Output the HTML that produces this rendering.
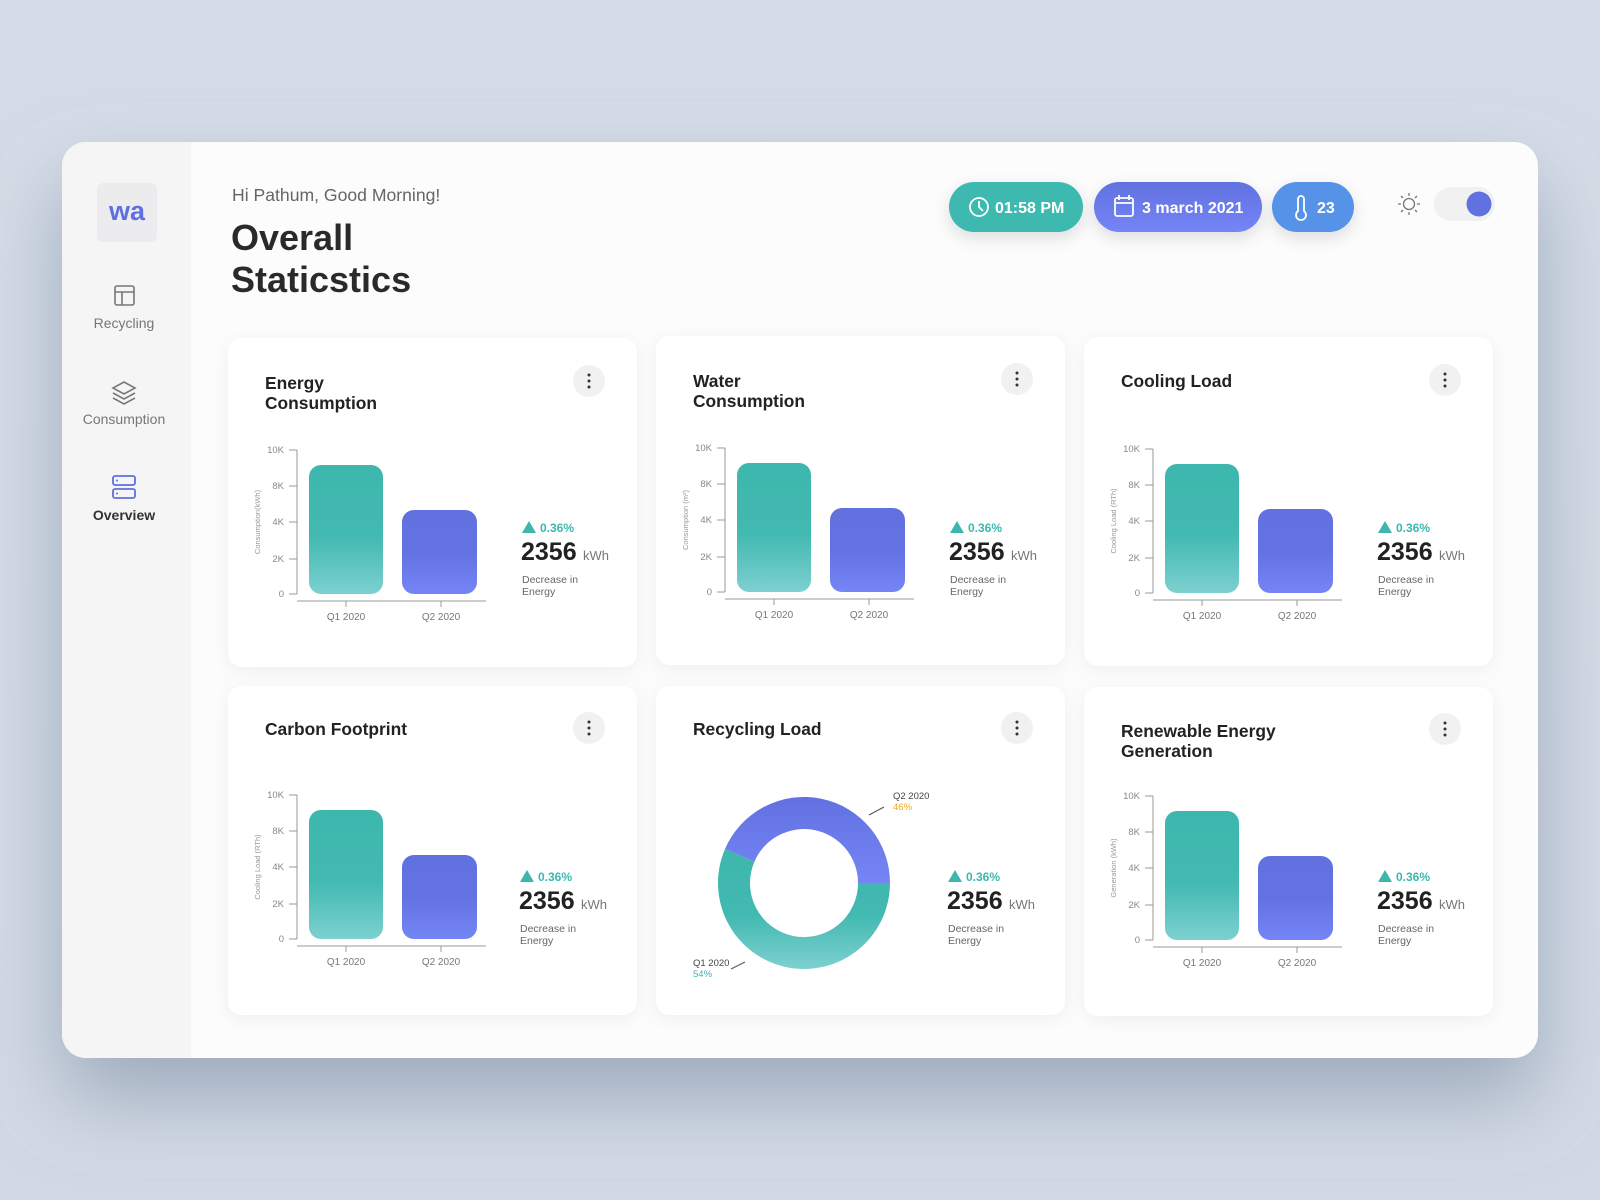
<!DOCTYPE html>
<html><head><meta charset="utf-8"><style>
html,body{margin:0;padding:0;width:1600px;height:1200px;overflow:hidden;background:#d4dbe6;}
svg{display:block;font-family:"Liberation Sans",sans-serif;}
</style></head><body>
<svg width="1600" height="1200" viewBox="0 0 1600 1200" xmlns="http://www.w3.org/2000/svg">
<defs>
<linearGradient id="bg" x1="0" y1="0" x2="0" y2="1"><stop offset="0" stop-color="#d5dce7"/><stop offset="1" stop-color="#d2d9e4"/></linearGradient>
<linearGradient id="gt" x1="0" y1="0" x2="0" y2="1"><stop offset="0" stop-color="#3db7ad"/><stop offset="0.55" stop-color="#42b9b1"/><stop offset="1" stop-color="#7dd0d0"/></linearGradient>
<linearGradient id="gp" x1="0" y1="0" x2="0" y2="1"><stop offset="0" stop-color="#6171e0"/><stop offset="0.5" stop-color="#6272e2"/><stop offset="1" stop-color="#7585f6"/></linearGradient>
<linearGradient id="gd" x1="0" y1="0" x2="0" y2="1"><stop offset="0" stop-color="#6171e0"/><stop offset="1" stop-color="#7585f6"/></linearGradient>
<filter id="sh" x="-10%" y="-10%" width="120%" height="135%"><feDropShadow dx="0" dy="40" stdDeviation="40" flood-color="#7a8ca2" flood-opacity="0.6"/></filter>
<filter id="cs" x="-10%" y="-10%" width="120%" height="120%"><feDropShadow dx="0" dy="4" stdDeviation="8" flood-color="#000" flood-opacity="0.05"/></filter>
<filter id="ps" x="-20%" y="-30%" width="140%" height="180%"><feDropShadow dx="0" dy="6" stdDeviation="8" flood-color="#000" flood-opacity="0.12"/></filter>
</defs>
<rect width="1600" height="1200" fill="url(#bg)"/>
<rect x="62" y="142" width="1476" height="916" rx="24" fill="#fcfcfc" filter="url(#sh)"/>
<path d="M86 142 H191 V1058 H86 A24 24 0 0 1 62 1034 V166 A24 24 0 0 1 86 142Z" fill="#f5f5f6"/>
<rect x="97" y="183" width="60" height="59" rx="6" fill="#ececee"/>
<text x="127" y="220" text-anchor="middle" font-size="27" font-weight="bold" fill="#5f6fe0">wa</text>
<g fill="none" stroke="#777" stroke-width="1.6"><rect x="115" y="286" width="19" height="19" rx="2"/><line x1="115" y1="292" x2="134" y2="292"/><line x1="122" y1="292" x2="122" y2="305"/></g>
<text x="124" y="328" text-anchor="middle" font-size="14" fill="#777">Recycling</text>
<g fill="none" stroke="#777" stroke-width="1.6"><path d="M124 382 L135 388 L124 394 L113 388Z"/><path d="M113 393 L124 399 L135 393"/><path d="M113 398 L124 404 L135 398"/></g>
<text x="124" y="424" text-anchor="middle" font-size="14" fill="#777">Consumption</text>
<g fill="none" stroke="#5f6fe0" stroke-width="1.8"><rect x="113" y="476" width="22" height="9" rx="2"/><rect x="113" y="489" width="22" height="9" rx="2"/></g>
<circle cx="117" cy="480.5" r="1" fill="#5f6fe0"/><circle cx="117" cy="493.5" r="1" fill="#5f6fe0"/>
<text x="124" y="520" text-anchor="middle" font-size="14" font-weight="bold" fill="#333">Overview</text>
<text x="232" y="201" font-size="17.6" fill="#666">Hi Pathum, Good Morning!</text>
<text x="231" y="250" font-size="36" font-weight="bold" fill="#2a2a2a">Overall</text>
<text x="231" y="292" font-size="36" font-weight="bold" fill="#2a2a2a">Staticstics</text>
<g filter="url(#ps)">
<rect x="949" y="182" width="134" height="50" rx="25" fill="#3db9af"/>
<rect x="1094" y="182" width="168" height="50" rx="25" fill="url(#gd)"/>
<rect x="1272" y="182" width="82" height="50" rx="25" fill="#5692e8"/>
</g>
<g fill="none" stroke="#fff" stroke-width="1.8"><circle cx="979" cy="207" r="9"/><path d="M979 201 V207 L983 211"/>
<rect x="1115" y="198" width="18" height="18" rx="2"/><line x1="1115" y1="203" x2="1133" y2="203"/><line x1="1119" y1="195" x2="1119" y2="200"/><line x1="1129" y1="195" x2="1129" y2="200"/>
<path d="M1298 199 a3 3 0 0 1 6 0 V211 a5 5 0 1 1 -6 0Z"/></g>
<text x="995" y="213" font-size="16" font-weight="bold" fill="#fff">01:58 PM</text>
<text x="1142" y="213" font-size="16" font-weight="bold" fill="#fff">3 march 2021</text>
<text x="1317" y="213" font-size="16" font-weight="bold" fill="#fff">23</text>
<g stroke="#777" stroke-width="1.3" fill="none"><circle cx="1409" cy="204" r="5.5"/>
<path d="M1409 193 v3 M1409 212 v3 M1398 204 h3 M1417 204 h3 M1401 196 l2 2 M1415 210 l2 2 M1401 212 l2 -2 M1415 198 l2 -2"/></g>
<rect x="1434" y="187" width="61" height="34" rx="17" fill="#f1f1f2"/>
<circle cx="1479" cy="204" r="12.5" fill="#6171e0"/>

<g font-family="Liberation Sans, sans-serif">
<g transform="translate(228,338)">
<rect width="409" height="329" rx="14" fill="#fff" filter="url(#cs)"/>
<text x="37" y="51" font-size="17.4" font-weight="bold" fill="#222">Energy</text>
<text x="37" y="71" font-size="17.4" font-weight="bold" fill="#222">Consumption</text>
<circle cx="361" cy="43" r="16" fill="#f1f1f1"/><circle cx="361" cy="37" r="1.5" fill="#333"/><circle cx="361" cy="43" r="1.5" fill="#333"/><circle cx="361" cy="49" r="1.5" fill="#333"/>
<g font-size="9.5" fill="#888" text-anchor="end"><text x="56" y="115">10K</text><text x="56" y="151">8K</text><text x="56" y="187">4K</text><text x="56" y="224">2K</text><text x="56" y="259">0</text></g>
<g stroke="#999" stroke-width="1"><path d="M61 112 H69 M61 148 H69 M61 184 H69 M61 221 H69 M61 256 H69 M69 112 V256 M69 263 H258 M118 263 V269 M213 263 V269"/></g>
<text transform="translate(32,184) rotate(-90)" text-anchor="middle" font-size="7.5" fill="#999">Consumption(kWh)</text>
<rect x="81" y="127" width="74" height="129" rx="12" fill="url(#gt)"/><rect x="174" y="172" width="75" height="84" rx="12" fill="url(#gp)"/>
<g font-size="10" fill="#777" text-anchor="middle"><text x="118" y="282">Q1 2020</text><text x="213" y="282">Q2 2020</text></g>
<polygon points="294,195 301,183 308,195" fill="#3db7ad"/><text x="312" y="194" font-size="12" font-weight="bold" fill="#3db7ad">0.36%</text>
<text x="293" y="222" font-size="25" font-weight="bold" fill="#222">2356</text><text x="355" y="222" font-size="13" fill="#777">kWh</text>
<text x="294" y="245" font-size="10.5" fill="#666">Decrease in</text><text x="294" y="257" font-size="10.5" fill="#666">Energy</text>
</g>
<g transform="translate(656,336)">
<rect width="409" height="329" rx="14" fill="#fff" filter="url(#cs)"/>
<text x="37" y="51" font-size="17.4" font-weight="bold" fill="#222">Water</text>
<text x="37" y="71" font-size="17.4" font-weight="bold" fill="#222">Consumption</text>
<circle cx="361" cy="43" r="16" fill="#f1f1f1"/><circle cx="361" cy="37" r="1.5" fill="#333"/><circle cx="361" cy="43" r="1.5" fill="#333"/><circle cx="361" cy="49" r="1.5" fill="#333"/>
<g font-size="9.5" fill="#888" text-anchor="end"><text x="56" y="115">10K</text><text x="56" y="151">8K</text><text x="56" y="187">4K</text><text x="56" y="224">2K</text><text x="56" y="259">0</text></g>
<g stroke="#999" stroke-width="1"><path d="M61 112 H69 M61 148 H69 M61 184 H69 M61 221 H69 M61 256 H69 M69 112 V256 M69 263 H258 M118 263 V269 M213 263 V269"/></g>
<text transform="translate(32,184) rotate(-90)" text-anchor="middle" font-size="7.5" fill="#999">Consumption (m³)</text>
<rect x="81" y="127" width="74" height="129" rx="12" fill="url(#gt)"/><rect x="174" y="172" width="75" height="84" rx="12" fill="url(#gp)"/>
<g font-size="10" fill="#777" text-anchor="middle"><text x="118" y="282">Q1 2020</text><text x="213" y="282">Q2 2020</text></g>
<polygon points="294,197 301,185 308,197" fill="#3db7ad"/><text x="312" y="196" font-size="12" font-weight="bold" fill="#3db7ad">0.36%</text>
<text x="293" y="224" font-size="25" font-weight="bold" fill="#222">2356</text><text x="355" y="224" font-size="13" fill="#777">kWh</text>
<text x="294" y="247" font-size="10.5" fill="#666">Decrease in</text><text x="294" y="259" font-size="10.5" fill="#666">Energy</text>
</g>
<g transform="translate(1084,337)">
<rect width="409" height="329" rx="14" fill="#fff" filter="url(#cs)"/>
<text x="37" y="50" font-size="17.4" font-weight="bold" fill="#222">Cooling Load</text>
<circle cx="361" cy="43" r="16" fill="#f1f1f1"/><circle cx="361" cy="37" r="1.5" fill="#333"/><circle cx="361" cy="43" r="1.5" fill="#333"/><circle cx="361" cy="49" r="1.5" fill="#333"/>
<g font-size="9.5" fill="#888" text-anchor="end"><text x="56" y="115">10K</text><text x="56" y="151">8K</text><text x="56" y="187">4K</text><text x="56" y="224">2K</text><text x="56" y="259">0</text></g>
<g stroke="#999" stroke-width="1"><path d="M61 112 H69 M61 148 H69 M61 184 H69 M61 221 H69 M61 256 H69 M69 112 V256 M69 263 H258 M118 263 V269 M213 263 V269"/></g>
<text transform="translate(32,184) rotate(-90)" text-anchor="middle" font-size="7.5" fill="#999">Cooling Load (RTh)</text>
<rect x="81" y="127" width="74" height="129" rx="12" fill="url(#gt)"/><rect x="174" y="172" width="75" height="84" rx="12" fill="url(#gp)"/>
<g font-size="10" fill="#777" text-anchor="middle"><text x="118" y="282">Q1 2020</text><text x="213" y="282">Q2 2020</text></g>
<polygon points="294,196 301,184 308,196" fill="#3db7ad"/><text x="312" y="195" font-size="12" font-weight="bold" fill="#3db7ad">0.36%</text>
<text x="293" y="223" font-size="25" font-weight="bold" fill="#222">2356</text><text x="355" y="223" font-size="13" fill="#777">kWh</text>
<text x="294" y="246" font-size="10.5" fill="#666">Decrease in</text><text x="294" y="258" font-size="10.5" fill="#666">Energy</text>
</g>
<g transform="translate(228,686)">
<rect width="409" height="329" rx="14" fill="#fff" filter="url(#cs)"/>
<text x="37" y="49" font-size="17.4" font-weight="bold" fill="#222">Carbon Footprint</text>
<circle cx="361" cy="42" r="16" fill="#f1f1f1"/><circle cx="361" cy="36" r="1.5" fill="#333"/><circle cx="361" cy="42" r="1.5" fill="#333"/><circle cx="361" cy="48" r="1.5" fill="#333"/>
<g font-size="9.5" fill="#888" text-anchor="end"><text x="56" y="112">10K</text><text x="56" y="148">8K</text><text x="56" y="184">4K</text><text x="56" y="221">2K</text><text x="56" y="256">0</text></g>
<g stroke="#999" stroke-width="1"><path d="M61 109 H69 M61 145 H69 M61 181 H69 M61 218 H69 M61 253 H69 M69 109 V253 M69 260 H258 M118 260 V266 M213 260 V266"/></g>
<text transform="translate(32,181) rotate(-90)" text-anchor="middle" font-size="7.5" fill="#999">Cooling Load (RTh)</text>
<rect x="81" y="124" width="74" height="129" rx="12" fill="url(#gt)"/><rect x="174" y="169" width="75" height="84" rx="12" fill="url(#gp)"/>
<g font-size="10" fill="#777" text-anchor="middle"><text x="118" y="279">Q1 2020</text><text x="213" y="279">Q2 2020</text></g>
<polygon points="292,196 299,184 306,196" fill="#3db7ad"/><text x="310" y="195" font-size="12" font-weight="bold" fill="#3db7ad">0.36%</text>
<text x="291" y="223" font-size="25" font-weight="bold" fill="#222">2356</text><text x="353" y="223" font-size="13" fill="#777">kWh</text>
<text x="292" y="246" font-size="10.5" fill="#666">Decrease in</text><text x="292" y="258" font-size="10.5" fill="#666">Energy</text>
</g>
<g transform="translate(656,686)">
<rect width="409" height="329" rx="14" fill="#fff" filter="url(#cs)"/>
<text x="37" y="49" font-size="17.4" font-weight="bold" fill="#222">Recycling Load</text>
<circle cx="361" cy="42" r="16" fill="#f1f1f1"/><circle cx="361" cy="36" r="1.5" fill="#333"/><circle cx="361" cy="42" r="1.5" fill="#333"/><circle cx="361" cy="48" r="1.5" fill="#333"/>
<path d="M234 197 A86 86 0 0 0 69 163 L98.4 175.7 A54 54 0 0 1 202 197Z" fill="url(#gd)"/>
<path d="M69 163 A86 86 0 1 0 234 197 L202 197 A54 54 0 1 1 98.4 175.7Z" fill="url(#gt)"/>
<g stroke="#555" stroke-width="1"><line x1="213" y1="129" x2="228" y2="121"/><line x1="75" y1="283" x2="89" y2="276"/></g>
<text x="237" y="113" font-size="9.5" fill="#444">Q2 2020</text><text x="237" y="124" font-size="9.5" fill="#f5a623">46%</text>
<text x="37" y="280" font-size="9.5" fill="#444">Q1 2020</text><text x="37" y="291" font-size="9.5" fill="#3db7ad">54%</text>
<polygon points="292,196 299,184 306,196" fill="#3db7ad"/><text x="310" y="195" font-size="12" font-weight="bold" fill="#3db7ad">0.36%</text>
<text x="291" y="223" font-size="25" font-weight="bold" fill="#222">2356</text><text x="353" y="223" font-size="13" fill="#777">kWh</text>
<text x="292" y="246" font-size="10.5" fill="#666">Decrease in</text><text x="292" y="258" font-size="10.5" fill="#666">Energy</text>
</g>
<g transform="translate(1084,687)">
<rect width="409" height="329" rx="14" fill="#fff" filter="url(#cs)"/>
<text x="37" y="50" font-size="17.4" font-weight="bold" fill="#222">Renewable Energy</text>
<text x="37" y="70" font-size="17.4" font-weight="bold" fill="#222">Generation</text>
<circle cx="361" cy="42" r="16" fill="#f1f1f1"/><circle cx="361" cy="36" r="1.5" fill="#333"/><circle cx="361" cy="42" r="1.5" fill="#333"/><circle cx="361" cy="48" r="1.5" fill="#333"/>
<g font-size="9.5" fill="#888" text-anchor="end"><text x="56" y="112">10K</text><text x="56" y="148">8K</text><text x="56" y="184">4K</text><text x="56" y="221">2K</text><text x="56" y="256">0</text></g>
<g stroke="#999" stroke-width="1"><path d="M61 109 H69 M61 145 H69 M61 181 H69 M61 218 H69 M61 253 H69 M69 109 V253 M69 260 H258 M118 260 V266 M213 260 V266"/></g>
<text transform="translate(32,181) rotate(-90)" text-anchor="middle" font-size="7.5" fill="#999">Generation (kWh)</text>
<rect x="81" y="124" width="74" height="129" rx="12" fill="url(#gt)"/><rect x="174" y="169" width="75" height="84" rx="12" fill="url(#gp)"/>
<g font-size="10" fill="#777" text-anchor="middle"><text x="118" y="279">Q1 2020</text><text x="213" y="279">Q2 2020</text></g>
<polygon points="294,195 301,183 308,195" fill="#3db7ad"/><text x="312" y="194" font-size="12" font-weight="bold" fill="#3db7ad">0.36%</text>
<text x="293" y="222" font-size="25" font-weight="bold" fill="#222">2356</text><text x="355" y="222" font-size="13" fill="#777">kWh</text>
<text x="294" y="245" font-size="10.5" fill="#666">Decrease in</text><text x="294" y="257" font-size="10.5" fill="#666">Energy</text>
</g>
</g>
</svg>
</body></html>
